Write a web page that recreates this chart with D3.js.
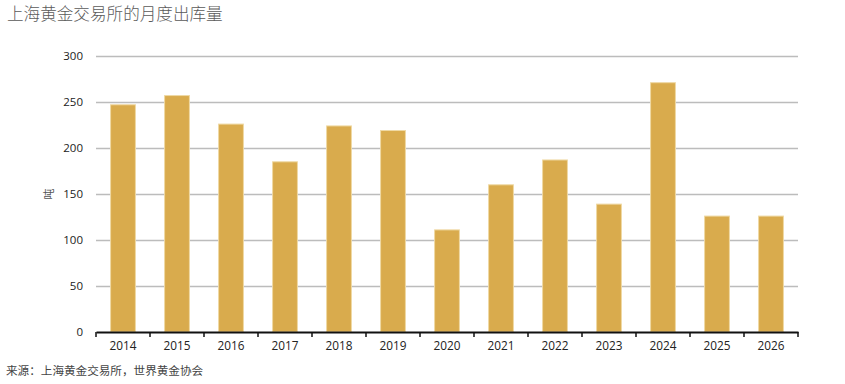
<!DOCTYPE html>
<html>
<head>
<meta charset="utf-8">
<script src="https://cdn.jsdelivr.net/npm/d3@7"></script>
<style>
  html, body { margin: 0; padding: 0; background: #fff; }
  body { width: 845px; height: 384px; overflow: hidden; font-family: "Open Sans", "Noto Sans CJK SC", sans-serif; }
  .tick text { font-family: "Open Sans", "Noto Sans", sans-serif; }
</style>
</head>
<body>
<svg id="chart" width="845" height="384"></svg>
<script>
// ── Data ─────────────────────────────────────────────
const YEARS   = ["2014","2015","2016","2017","2018","2019","2020","2021","2022","2023","2024","2025","2026"];
const TONNES  = [247, 257, 226, 185, 224, 219, 111, 160, 187, 139, 271, 126, 126];
const Y_TICKS = [0, 50, 100, 150, 200, 250, 300];

const TITLE  = "上海黄金交易所的月度出库量";
const SOURCE = "来源：上海黄金交易所，世界黄金协会";
const Y_LABEL = "吨";

// ── Layout ───────────────────────────────────────────
const M = { top: 56, right: 47, bottom: 52, left: 96 };
const W = 845, H = 384;
const innerW = W - M.left - M.right;
const innerH = H - M.top - M.bottom;

const svg = d3.select("#chart");
const g = svg.append("g").attr("transform", `translate(${M.left},${M.top})`);

const x = d3.scaleBand().domain(YEARS).range([0, innerW]).paddingInner(0.54).paddingOuter(0.27);
const y = d3.scaleLinear().domain([0, 300]).range([innerH, 0]);

// gridlines
g.append("g")
  .call(d3.axisLeft(y).tickValues(Y_TICKS.slice(1)).tickSize(-innerW).tickFormat(""))
  .call(s => s.select(".domain").remove())
  .call(s => s.selectAll("line").attr("stroke", "#bcbcbc").attr("stroke-width", 1.5));

// y labels
g.append("g")
  .call(d3.axisLeft(y).tickValues(Y_TICKS).tickSize(0).tickPadding(13))
  .call(s => s.select(".domain").remove())
  .call(s => s.selectAll("text").attr("fill", "#222").attr("font-size", 11.5));

// bars
g.append("g").selectAll("rect")
  .data(YEARS.map((yr, i) => ({ yr, v: TONNES[i] })))
  .join("rect")
  .attr("x", d => x(d.yr))
  .attr("y", d => y(d.v))
  .attr("width", x.bandwidth())
  .attr("height", d => innerH - y(d.v))
  .attr("fill", "#d9ab4d")
  .attr("stroke", "#efd9a4")
  .attr("stroke-width", 1);

// x axis with boundary ticks
const xAxisG = g.append("g").attr("transform", `translate(0,${innerH})`);
xAxisG.call(d3.axisBottom(x).tickSize(0).tickPadding(10))
  .call(s => s.select(".domain").attr("stroke", "#111").attr("stroke-width", 2))
  .call(s => s.selectAll("text").attr("fill", "#222").attr("font-size", 11.8));
const step = x.step();
xAxisG.selectAll(".bnd")
  .data(d3.range(YEARS.length + 1))
  .join("line")
  .attr("x1", i => i * step).attr("x2", i => i * step)
  .attr("y1", 0).attr("y2", 5)
  .attr("stroke", "#111").attr("stroke-width", 1.5);

// y axis title
svg.append("text")
  .attr("transform", `translate(50,${M.top + y(150)}) rotate(-90)`)
  .attr("text-anchor", "middle")
  .attr("dominant-baseline", "middle")
  .attr("font-size", 11)
  .attr("fill", "#555")
  .text(Y_LABEL);

// title
svg.append("text")
  .attr("x", 7).attr("y", 20)
  .attr("font-size", 16.6)
  .attr("font-weight", 300)
  .attr("fill", "#5a5a5a")
  .attr("font-family", "Noto Sans CJK SC, sans-serif")
  .text(TITLE);

// source
svg.append("text")
  .attr("x", 6).attr("y", 375)
  .attr("font-size", 11.6)
  .attr("fill", "#444")
  .attr("font-family", "Noto Sans CJK SC, sans-serif")
  .text(SOURCE);
</script>
</body>
</html>
